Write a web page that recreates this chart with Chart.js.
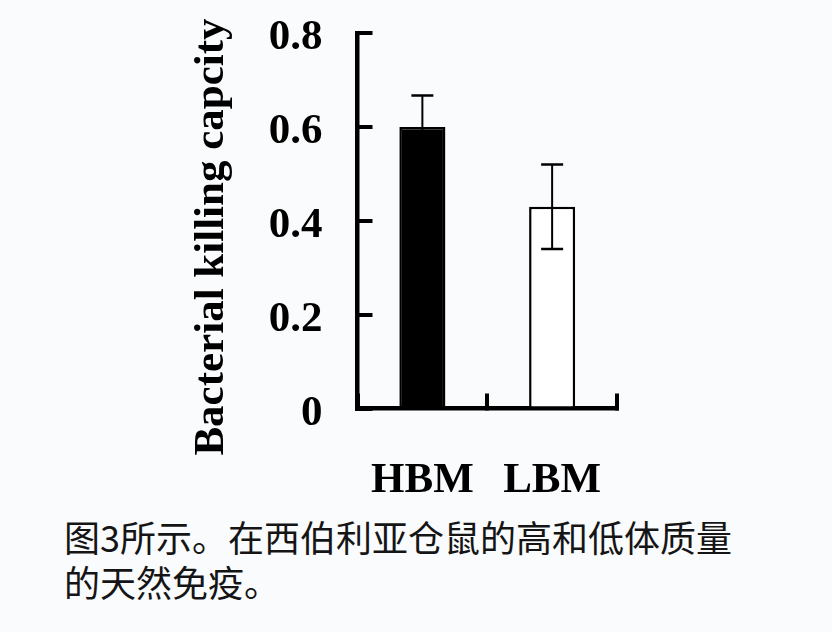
<!DOCTYPE html>
<html>
<head>
<meta charset="utf-8">
<script src="https://cdn.jsdelivr.net/npm/chart.js@4"></script>
<style>
  body { margin: 0; background: #fafbfd; }
  #wrap { position: relative; width: 832px; height: 632px; }
  #grafica { position: absolute; left: 0; top: 0; }
  #pie {
    position: absolute; left: 64px; top: 514px;
    font-family: "Noto Sans CJK SC", sans-serif; font-size: 36px;
    line-height: 45px; color: #151515; white-space: nowrap;
  }
</style>
</head>
<body>
<div id="wrap">
  <canvas id="grafica" width="832" height="510"></canvas>
  <div id="pie">图3所示。在西伯利亚仓鼠的高和低体质量<br>的天然免疫。</div>
</div>
<script>
// Datos
const grupos = ['HBM', 'LBM'];
const capacidad = [0.60, 0.43];
const errores = [0.067, 0.09];
const ticksY = [0, 0.2, 0.4, 0.6, 0.8];
const tituloY = 'Bacterial killing capcity';

const fuente = 'Liberation Serif, Times New Roman, serif';

// Barras de error dibujadas con la escala del grafico
const barrasError = {
    id: 'barrasError',
    afterDatasetsDraw(chart) {
        const ctx = chart.ctx;
        const y = chart.scales.y;
        const meta = chart.getDatasetMeta(0);
        ctx.save();
        ctx.strokeStyle = '#000';
        meta.data.forEach((barra, i) => {
            const arriba = y.getPixelForValue(capacidad[i] + errores[i]);
            const abajo = y.getPixelForValue(capacidad[i] - errores[i]);
            ctx.lineWidth = 2;
            ctx.beginPath();
            ctx.moveTo(barra.x, arriba);
            ctx.lineTo(barra.x, abajo);
            ctx.stroke();
            ctx.lineWidth = 2.5;
            ctx.beginPath();
            ctx.moveTo(barra.x - 11, arriba);
            ctx.lineTo(barra.x + 11, arriba);
            ctx.moveTo(barra.x - 11, abajo);
            ctx.lineTo(barra.x + 11, abajo);
            ctx.stroke();
        });
        ctx.restore();
    }
};

// Titulo del eje Y (girado)
const tituloEjeY = {
    id: 'tituloEjeY',
    afterDraw(chart) {
        const ctx = chart.ctx;
        ctx.save();
        ctx.translate(223, 237);
        ctx.rotate(-Math.PI / 2);
        ctx.font = 'bold 43px ' + fuente;
        ctx.fillStyle = '#000';
        ctx.textAlign = 'center';
        ctx.textBaseline = 'alphabetic';
        ctx.fillText(tituloY, 0, 0);
        ctx.restore();
    }
};

const ctxBarras = document.getElementById('grafica').getContext('2d');
new Chart(ctxBarras, {
    type: 'bar',
    data: {
        labels: grupos,
        datasets: [{
            data: capacidad,
            backgroundColor: ['#000000', '#ffffff'],
            borderColor: '#000000',
            borderWidth: 2.5,
            barPercentage: 0.355,
            categoryPercentage: 1
        }]
    },
    options: {
        responsive: false,
        animation: false,
        layout: { padding: { left: 0, top: 33, right: 215, bottom: 0 } },
        plugins: {
            legend: { display: false },
            tooltip: { enabled: false }
        },
        scales: {
            x: {
                afterFit(scale) {
                    scale.height = 101.5;
                    scale.paddingLeft = 0;
                    scale.paddingRight = 0;
                },
                grid: {
                    offset: true,
                    drawOnChartArea: false,
                    drawTicks: true,
                    tickLength: -15,
                    tickWidth: 4,
                    lineWidth: 4,
                    tickColor: '#000'
                },
                border: { display: true, color: '#000', width: 4.5 },
                ticks: {
                    color: '#000',
                    padding: 62,
                    font: { family: fuente, size: 43, weight: 'bold', lineHeight: 1.2 }
                }
            },
            y: {
                min: 0,
                max: 0.8,
                afterFit(scale) {
                    scale.width = 357.5;
                    scale.paddingTop = 0;
                    scale.paddingBottom = 0;
                },
                afterBuildTicks(scale) { scale.ticks = ticksY.map(v => ({ value: v })); },
                grid: {
                    drawOnChartArea: false,
                    drawTicks: true,
                    tickLength: -15,
                    tickWidth: 4,
                    lineWidth: 4,
                    tickColor: '#000'
                },
                border: { display: true, color: '#000', width: 4.5 },
                ticks: {
                    color: '#000',
                    padding: 50,
                    labelOffset: 5,
                    font: { family: fuente, size: 43, weight: 'bold' }
                }
            }
        }
    },
    plugins: [barrasError, tituloEjeY]
});
</script>
</body>
</html>
